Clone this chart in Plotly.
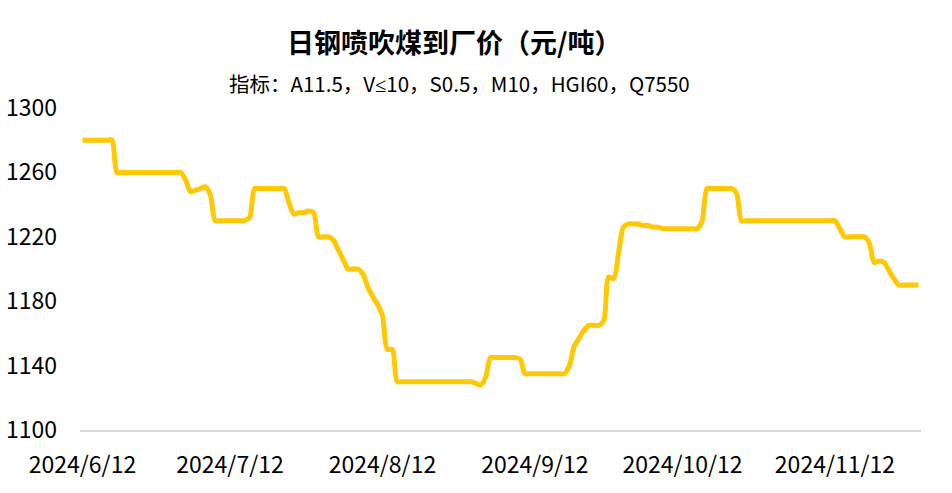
import pandas as pd
import plotly.graph_objects as go

# Daily dates 2024-06-12 .. 2024-11-29
dates = pd.date_range("2024-06-12", "2024-11-29", freq="D")

# Daily price values (元/吨), one row per 7 days starting 2024-06-12
prices = [
    1280, 1280, 1280, 1280, 1280, 1280, 1280,
    1260, 1260, 1260, 1260, 1260, 1260, 1260,
    1260, 1260, 1260, 1260, 1260, 1260, 1260,
    1255, 1248, 1249, 1250, 1251, 1246, 1230,
    1230, 1230, 1230, 1230, 1230, 1230, 1232,
    1250, 1250, 1250, 1250, 1250, 1250, 1250,
    1241, 1234, 1235, 1235, 1236, 1235, 1220,
    1220, 1220, 1218, 1212, 1206, 1200, 1200,
    1200, 1197, 1189, 1183, 1178, 1171, 1150,
    1150, 1130, 1130, 1130, 1130, 1130, 1130,
    1130, 1130, 1130, 1130, 1130, 1130, 1130,
    1130, 1130, 1130, 1129, 1128, 1133, 1145,
    1145, 1145, 1145, 1145, 1145, 1144, 1135,
    1135, 1135, 1135, 1135, 1135, 1135, 1135,
    1135, 1140, 1152, 1157, 1162, 1165, 1165,
    1165, 1168, 1195, 1194, 1210, 1226, 1228,
    1228, 1228, 1227, 1227, 1226, 1226, 1225,
    1225, 1225, 1225, 1225, 1225, 1225, 1225,
    1230, 1250, 1250, 1250, 1250, 1250, 1250,
    1247, 1230, 1230, 1230, 1230, 1230, 1230,
    1230, 1230, 1230, 1230, 1230, 1230, 1230,
    1230, 1230, 1230, 1230, 1230, 1230, 1230,
    1225, 1220, 1220, 1220, 1220, 1220, 1216,
    1204, 1205, 1204, 1199, 1194, 1190, 1190,
    1190, 1190, 1190,
]

tick_dates = ["2024-06-12", "2024-07-12", "2024-08-12", "2024-09-12", "2024-10-12", "2024-11-12"]
tick_labels = ["2024/6/12", "2024/7/12", "2024/8/12", "2024/9/12", "2024/10/12", "2024/11/12"]
y_ticks = [1100, 1140, 1180, 1220, 1260, 1300]

title_text = "日钢喷吹煤到厂价（元/吨）"
subtitle_text = "指标：A11.5，V<span style=\"font-family:'Noto Sans'\">≤</span>10，S0.5，M10，HGI60，Q7550"

FONT = "Noto Sans CJK SC"

fig = go.Figure()
fig.add_trace(go.Scatter(
    x=dates, y=prices, mode="lines",
    line=dict(color="#FFC800", width=5, shape="spline", smoothing=0.8),
    hoverinfo="x+y", showlegend=False,
))

fig.update_layout(
    width=952, height=493,
    margin=dict(l=80, r=31, t=107.5, b=62.5, autoexpand=False),
    paper_bgcolor="white", plot_bgcolor="white",
    font=dict(family=FONT, color="black", size=20),
    xaxis=dict(
        type="date", automargin=False,
        range=["2024-06-11 12:00", "2024-11-29 12:00"],
        tickvals=tick_dates, ticktext=tick_labels,
        showgrid=False, zeroline=False,
        showline=True, linecolor="#d9d9d9", linewidth=2,
        ticks="", tickfont=dict(size=23, family=FONT, color="black"),
        ticklabelstandoff=13,
    ),
    yaxis=dict(
        range=[1100, 1300], automargin=False,
        tickvals=y_ticks,
        showgrid=False, zeroline=False, showline=False,
        ticks="", tickfont=dict(size=23, family=FONT, color="black"),
        ticklabelstandoff=22,
    ),
    annotations=[
        dict(text="<b>" + title_text + "</b>", xref="paper", yref="paper",
             x=(453.5 - 80) / 841, y=(430.5 - 41) / 323, xanchor="center", yanchor="middle",
             showarrow=False, font=dict(size=27, family=FONT, color="black")),
        dict(text=subtitle_text, xref="paper", yref="paper",
             x=(459 - 80) / 841, y=(430.5 - 82) / 323, xanchor="center", yanchor="middle",
             showarrow=False, font=dict(size=20.5, family=FONT, color="black")),
    ],
)

fig.write_html(
    "out.html",
    config={"displayModeBar": False},
    post_script="document.body.style.margin='0';document.body.style.overflow='hidden';",
)
